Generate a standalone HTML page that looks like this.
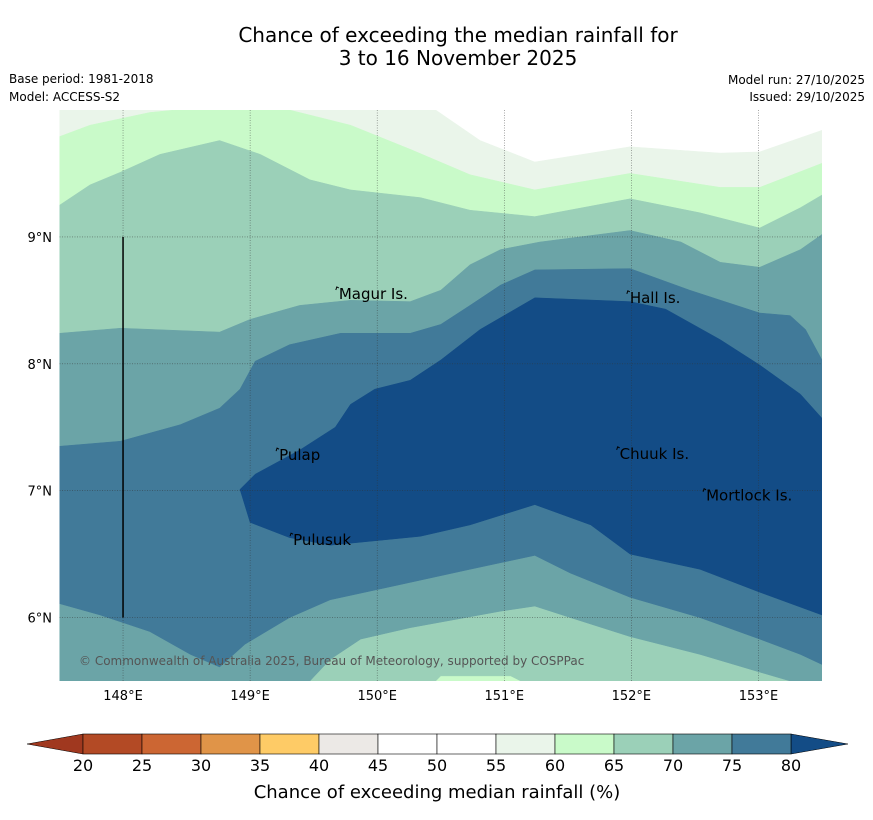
<!DOCTYPE html>
<html><head><meta charset="utf-8">
<style>
body{margin:0;background:#fff;width:873px;height:816px;overflow:hidden;font-family:"DejaVu Sans","Liberation Sans",sans-serif}
svg text{font-family:"DejaVu Sans","Liberation Sans",sans-serif}
</style></head>
<body>
<svg id="chart" width="873" height="816" viewBox="0 0 873 816" xmlns="http://www.w3.org/2000/svg">
<text x="458" y="42" font-size="20" text-anchor="middle" fill="#000">Chance of exceeding the median rainfall for</text>
<text x="458" y="65" font-size="20" text-anchor="middle" fill="#000">3 to 16 November 2025</text>
<text x="9" y="83" font-size="12" fill="#000">Base period: 1981-2018</text>
<text x="9" y="101" font-size="12" fill="#000">Model: ACCESS-S2</text>
<text x="865" y="84" font-size="12" text-anchor="end" fill="#000">Model run: 27/10/2025</text>
<text x="865" y="101" font-size="12" text-anchor="end" fill="#000">Issued: 29/10/2025</text>
<defs><clipPath id="mapclip"><rect x="59.5" y="110" width="762.5" height="571"/></clipPath></defs>
<g id="map" clip-path="url(#mapclip)"></g>
<g id="axes"></g>
<g id="cbar"></g>
</svg>
<script>
const lonMin=147.5, lonMax=153.5, latMin=5.5, latMax=10;
const levelLabels=["≥55","≥60","≥65","≥70","≥75","≥80"];
const levelColors=["#eaf5ea","#c9fac9","#9bd0b8","#6ba4a7","#417a99","#134c86"];
const baseColor="#ffffff";
const lvl55=[[147.5,10],[150.46,10],[150.81,9.76],[151.24,9.59],[151.99,9.71],[152.7,9.66],[153.01,9.67],[153.5,9.84],[153.5,5.5],[147.5,5.5]];
const lvl60=[[147.5,9.79],[147.74,9.88],[148.21,9.98],[148.41,10],[149.31,10],[149.79,9.88],[150.26,9.69],[150.73,9.49],[151.24,9.37],[151.99,9.5],[152.7,9.39],[153.01,9.39],[153.5,9.58],[153.5,5.5],[147.5,5.5]];
const lvl65=[[147.5,9.25],[147.74,9.41],[147.98,9.51],[148.29,9.65],[148.76,9.76],[149.08,9.65],[149.47,9.45],[149.79,9.37],[150.34,9.31],[150.73,9.21],[151.24,9.16],[151.99,9.3],[152.54,9.19],[153.01,9.07],[153.33,9.23],[153.5,9.33],[153.5,5.5],[151.13,5.5],[151.05,5.54],[150.5,5.54],[150.46,5.5],[147.5,5.5]];
const lvl70=[[147.5,8.24],[147.98,8.28],[148.76,8.25],[149.0,8.35],[149.39,8.46],[149.79,8.5],[150.26,8.49],[150.5,8.58],[150.73,8.78],[150.97,8.9],[151.28,8.96],[151.99,9.05],[152.39,8.96],[152.7,8.8],[153.01,8.76],[153.33,8.9],[153.5,9.02],[153.5,5.5],[153.25,5.5],[153.01,5.57],[152.54,5.71],[151.99,5.85],[151.52,6.0],[151.24,6.09],[150.97,6.05],[150.26,5.92],[149.87,5.83],[149.63,5.67],[149.47,5.5],[147.5,5.5]];
const lvl75=[[147.5,7.35],[147.98,7.39],[148.45,7.52],[148.76,7.65],[148.92,7.8],[149.04,8.02],[149.31,8.15],[149.71,8.24],[150.26,8.24],[150.5,8.31],[150.73,8.46],[150.97,8.62],[151.24,8.74],[151.99,8.75],[152.46,8.58],[153.01,8.4],[153.25,8.38],[153.37,8.27],[153.5,8.03],[153.5,5.63],[153.33,5.71],[153.01,5.83],[152.54,6.0],[151.99,6.16],[151.52,6.35],[151.24,6.49],[150.73,6.38],[150.18,6.26],[149.63,6.14],[149.31,6.0],[148.96,5.79],[148.76,5.61],[148.53,5.71],[148.21,5.89],[147.82,6.02],[147.5,6.11]];
const lvl80=[[148.92,7.01],[149.04,7.13],[149.39,7.32],[149.67,7.5],[149.79,7.68],[149.98,7.8],[150.26,7.87],[150.5,8.03],[150.81,8.27],[151.24,8.52],[151.99,8.49],[152.27,8.43],[152.7,8.19],[153.01,7.99],[153.33,7.76],[153.5,7.57],[153.5,6.02],[153.01,6.2],[152.54,6.38],[151.99,6.5],[151.68,6.73],[151.24,6.89],[150.73,6.73],[150.34,6.64],[149.63,6.57],[149.31,6.63],[149.0,6.75],[148.92,7.01]];
const levels=[lvl55,lvl60,lvl65,lvl70,lvl75,lvl80];
const lonTicks=[148,149,150,151,152,153];
const latTicks=[6,7,8,9];
const islandNames=["Magur Is.","Hall Is.","Pulap","Chuuk Is.","Mortlock Is.","Pulusuk"];
const islandLon=[149.69,151.98,149.22,151.9,152.58,149.33];
const islandLat=[8.55,8.52,7.28,7.29,6.96,6.61];
const cbarTicks=[20,25,30,35,40,45,50,55,60,65,70,75,80];
const cbarColors=["#b34a25","#cc6633","#e09448","#fecb66","#ece9e6","#ffffff","#ffffff","#eaf5ea","#c9fac9","#9bd0b8","#6ba4a7","#417a99"];

const NS="http://www.w3.org/2000/svg";
const X0=59.5,X1=822,Y0=110,Y1=681;
const px=lon=>X0+(lon-lonMin)/(lonMax-lonMin)*(X1-X0);
const py=lat=>Y1-(lat-latMin)/(latMax-latMin)*(Y1-Y0);
function mk(tag,attrs,parent){const e=document.createElementNS(NS,tag);for(const k in attrs)e.setAttribute(k,attrs[k]);parent.appendChild(e);return e;}
const map=document.getElementById('map');
const bg=mk('rect',{x:X0,y:Y0,width:X1-X0,height:Y1-Y0,fill:baseColor},map);


levels.forEach((poly,i)=>{
  const d='M'+poly.map(p=>px(p[0]).toFixed(1)+','+py(p[1]).toFixed(1)).join('L')+'Z';
  const p=mk('path',{d:d,fill:levelColors[i],stroke:levelColors[i],'stroke-width':0.5},map);
  
  
});
lonTicks.forEach(l=>{
  const g=mk('line',{x1:px(l),x2:px(l),y1:Y0,y2:Y1,stroke:'#333','stroke-width':0.6,'stroke-dasharray':'1,1.5',opacity:0.7},map);
  
  
});
latTicks.forEach(l=>{
  const g=mk('line',{x1:X0,x2:X1,y1:py(l),y2:py(l),stroke:'#333','stroke-width':0.6,'stroke-dasharray':'1,1.5',opacity:0.7},map);
  
  
});
const vl=mk('line',{x1:px(148),x2:px(148),y1:py(9),y2:py(6),stroke:'#000','stroke-width':1.5},map);


islandNames.forEach((n,i)=>{
  const x=px(islandLon[i]),y=py(islandLat[i]);
  const m=mk('path',{d:`M${x-2},${y-4}l1,-3l2,1`,stroke:'#000',fill:'none','stroke-width':1},map);
  
  
  const t=mk('text',{x:x+1,y:y+5,'font-size':15,fill:'#000'},map);
  t.textContent=n;
  
  
});
const cp=mk('text',{x:79,y:665,'font-size':12,fill:'#555'},map);
cp.textContent='© Commonwealth of Australia 2025, Bureau of Meteorology, supported by COSPPac';


const axes=document.getElementById('axes');
lonTicks.forEach(l=>{
  const t=mk('text',{x:px(l),y:700,'font-size':13,'text-anchor':'middle',fill:'#000'},axes);
  t.textContent=l+'°E';
  
  
});
latTicks.forEach(l=>{
  const t=mk('text',{x:52,y:py(l)+5,'font-size':13,'text-anchor':'end',fill:'#000'},axes);
  t.textContent=l+'°N';
  
  
});
const cb=document.getElementById('cbar');
const CX0=83,CX1=791,CY0=734,CY1=754;
const cx=v=>CX0+(v-20)/60*(CX1-CX0);
const lt=mk('path',{d:`M${CX0},${CY0}L27,${(CY0+CY1)/2}L${CX0},${CY1}Z`,fill:'#a0381f',stroke:'#000','stroke-width':0.5},cb);


const rt=mk('path',{d:`M${CX1},${CY0}L848,${(CY0+CY1)/2}L${CX1},${CY1}Z`,fill:'#134c86',stroke:'#000','stroke-width':0.5},cb);


cbarColors.forEach((c,i)=>{
  const r=mk('rect',{x:cx(cbarTicks[i]),y:CY0,width:cx(cbarTicks[i+1])-cx(cbarTicks[i]),height:CY1-CY0,fill:c,stroke:'#000','stroke-width':0.6},cb);
  
  
});
cbarTicks.forEach(v=>{
  const t=mk('text',{x:cx(v),y:771,'font-size':16,'text-anchor':'middle',fill:'#000'},cb);
  t.textContent=v;
  
  
});
const cl=mk('text',{x:437,y:798,'font-size':18,'text-anchor':'middle',fill:'#000'},cb);
cl.textContent='Chance of exceeding median rainfall (%)';


</script>
</body></html>
